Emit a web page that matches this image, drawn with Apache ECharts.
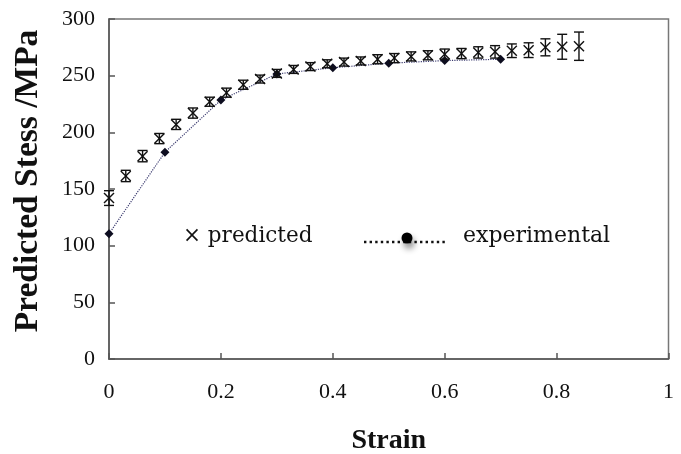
<!DOCTYPE html>
<html>
<head>
<meta charset="utf-8">
<script src="https://cdn.jsdelivr.net/npm/echarts@6/dist/echarts.min.js"></script>
<style>
  html, body { margin: 0; padding: 0; background: #fff; }
  #chart { width: 681px; height: 454px; }
</style>
</head>
<body>
<div id="chart"></div>
<script>
  // predicted stress (x markers with error bars)
  var predStrain = [0, 0.03, 0.06, 0.09, 0.12, 0.15, 0.18, 0.21, 0.24, 0.27, 0.30, 0.33, 0.36, 0.39, 0.42,
                    0.45, 0.48, 0.51, 0.54, 0.57, 0.60, 0.63, 0.66, 0.69, 0.72, 0.75, 0.78, 0.81, 0.84];
  var predStress = [142, 161.5, 179, 194.5, 207, 217, 227, 235, 242, 247, 252, 255.5, 258, 260.5, 262,
                    263, 264.5, 265.5, 267, 268, 269, 269.5, 270.5, 271, 272, 272.5, 275, 275.5, 276];
  var predError  = [6.5, 5, 5, 4.5, 4.5, 4.5, 4, 4, 4, 3.5, 3.5, 3.5, 3.5, 3.5, 3.5,
                    3.5, 4, 4, 4, 4, 4.5, 4.5, 5, 5.5, 6, 6.5, 7.5, 11, 12.5];

  // experimental stress (dots + dotted line)
  var expStrain = [0, 0.1, 0.2, 0.3, 0.4, 0.5, 0.6, 0.7];
  var expStress = [110.5, 182.5, 228.5, 251.5, 257, 261, 263.3, 264.5];

  var xTicks = ['0', '0.2', '0.4', '0.6', '0.8', '1'];
  var yTicks = ['0', '50', '100', '150', '200', '250', '300'];

  var predData = predStrain.map(function (s, i) { return [s, predStress[i], predError[i]]; });
  var expData = expStrain.map(function (s, i) { return [s, expStress[i]]; });

  var myChart = echarts.init(document.getElementById('chart'));

  var option = {
    backgroundColor: '#fff',
    animation: false,
    grid: {
      left: 109, right: 12.5, top: 19, bottom: 95,
      outerBoundsMode: 'none',
      show: true, borderColor: '#777', borderWidth: 1.5
    },
    xAxis: {
      type: 'value', min: 0, max: 1, interval: 0.2,
      name: 'Strain', nameLocation: 'middle', nameGap: 68,
      nameTextStyle: { fontFamily: 'Liberation Serif', fontWeight: 'bold', fontSize: 28, color: '#111' },
      axisLine: { show: true, lineStyle: { color: '#555', width: 1.5 } },
      axisTick: { show: true, inside: true, length: 6, lineStyle: { color: '#555', width: 1.5 } },
      axisLabel: {
        margin: 22, fontFamily: 'Liberation Serif', fontSize: 22, color: '#111',
        formatter: function (v) { return xTicks[Math.round(v / 0.2)]; }
      },
      splitLine: { show: false }
    },
    yAxis: {
      type: 'value', min: 0, max: 300, interval: 50,
      axisLine: { show: true, lineStyle: { color: '#555', width: 1.5 } },
      axisTick: { show: true, inside: true, length: 6, lineStyle: { color: '#555', width: 1.5 } },
      axisLabel: {
        margin: 14, fontFamily: 'Liberation Serif', fontSize: 22, color: '#111',
        formatter: function (v) { return yTicks[Math.round(v / 50)]; }
      },
      splitLine: { show: false }
    },
    graphic: [
      {
        type: 'text', x: 28, y: 181, rotation: Math.PI / 2,
        style: {
          text: 'Predicted Stess /MPa', fontFamily: 'Liberation Serif', fontWeight: 'bold',
          fontSize: 33.5, fill: '#111', textAlign: 'center', textVerticalAlign: 'middle'
        }
      },
      {
        type: 'text', x: 183, y: 236,
        style: { text: '× predicted', fontFamily: 'DejaVu Serif', fontSize: 21.5, fill: '#111', textVerticalAlign: 'middle' }
      },
      {
        type: 'line', shape: { x1: 364, y1: 242, x2: 448, y2: 242 },
        style: { stroke: '#111', lineWidth: 2.6, lineDash: [2.4, 3.2] }
      },
      {
        type: 'circle', shape: { cx: 407, cy: 238, r: 5.5 },
        style: { fill: '#000', shadowColor: 'rgba(0,0,0,0.45)', shadowBlur: 6, shadowOffsetX: 2, shadowOffsetY: 5 }
      },
      {
        type: 'text', x: 463, y: 236,
        style: { text: 'experimental', fontFamily: 'DejaVu Serif', fontSize: 22, fill: '#111', textVerticalAlign: 'middle' }
      }
    ],
    series: [
      {
        name: 'experimental',
        type: 'line',
        data: expData,
        symbol: 'diamond',
        symbolSize: 9,
        itemStyle: { color: '#0d0d1f' },
        lineStyle: { color: '#3c3c70', width: 1.2, type: 'dotted' },
        z: 2
      },
      {
        name: 'predicted',
        type: 'custom',
        data: predData,
        z: 3,
        renderItem: function (params, api) {
          var c = api.coord([api.value(0), api.value(1)]);
          var hi = api.coord([api.value(0), api.value(1) + api.value(2)]);
          var lo = api.coord([api.value(0), api.value(1) - api.value(2)]);
          var w = 5, s = 5, st = { stroke: '#111', lineWidth: 1.4 };
          return {
            type: 'group',
            children: [
              { type: 'line', shape: { x1: c[0], y1: hi[1], x2: c[0], y2: lo[1] }, style: st },
              { type: 'line', shape: { x1: c[0] - w, y1: hi[1], x2: c[0] + w, y2: hi[1] }, style: st },
              { type: 'line', shape: { x1: c[0] - w, y1: lo[1], x2: c[0] + w, y2: lo[1] }, style: st },
              { type: 'line', shape: { x1: c[0] - s, y1: c[1] - s, x2: c[0] + s, y2: c[1] + s }, style: st },
              { type: 'line', shape: { x1: c[0] - s, y1: c[1] + s, x2: c[0] + s, y2: c[1] - s }, style: st }
            ]
          };
        }
      }
    ]
  };

  myChart.setOption(option);
</script>
</body>
</html>
